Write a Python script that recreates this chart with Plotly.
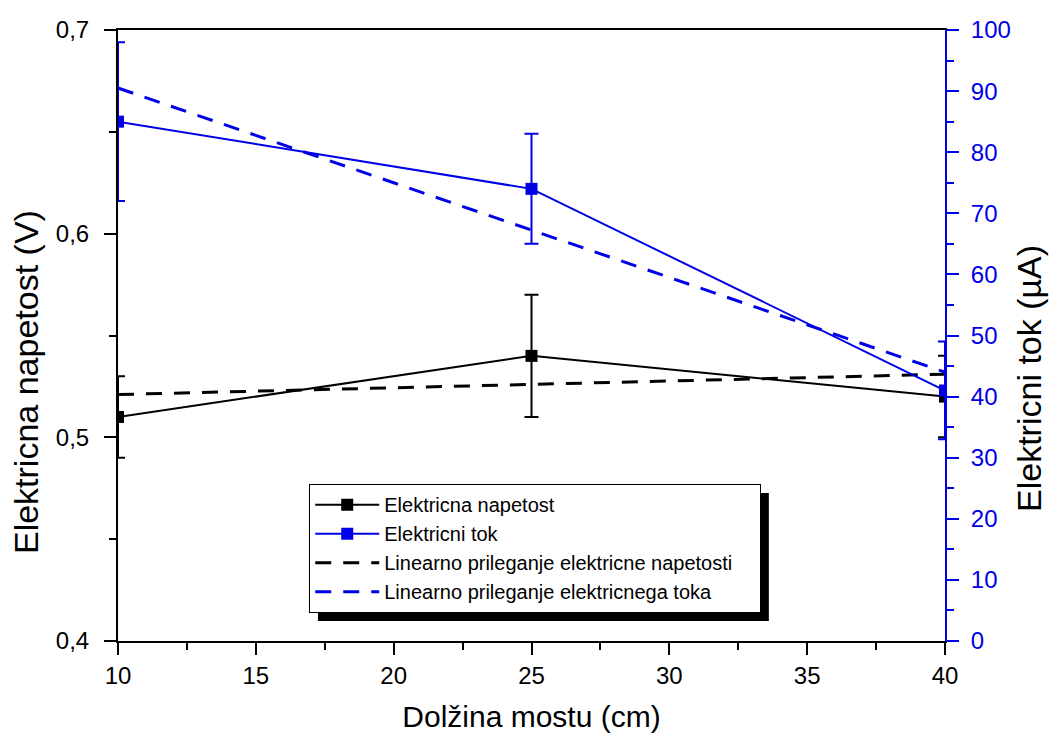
import plotly.graph_objects as go

# ---- data ----
length_cm = [10, 25, 40]
voltage_V = [0.51, 0.54, 0.52]
voltage_err = [0.02, 0.03, 0.02]
current_uA = [85, 74, 41]
current_err = [13, 9, 8]
fit_x = [10, 40]
fit_voltage = [0.521, 0.531]
fit_current = [90.5, 44.0]

x_ticks = [10, 15, 20, 25, 30, 35, 40]
y_ticks = [0.4, 0.5, 0.6, 0.7]
y_tick_text = ["0,4", "0,5", "0,6", "0,7"]
y2_ticks = [0, 10, 20, 30, 40, 50, 60, 70, 80, 90, 100]

names = ["Elektricna napetost", "Elektricni tok",
         "Linearno prileganje elektricne napetosti",
         "Linearno prileganje elektricnega toka"]
x_title = "Dolžina mostu (cm)"
y_title = "Elektricna napetost (V)"
y2_title = "Elektricni tok (µA)"

BLACK = "#000000"
BLUE = "#0000e6"
FONT = "Liberation Sans"
PAD = "\u00a0" * 4

fig = go.Figure()
fig.add_trace(go.Scatter(
    x=length_cm, y=voltage_V, name=names[0], mode="lines+markers",
    line=dict(color=BLACK, width=2),
    marker=dict(symbol="square", size=12, color=BLACK),
    error_y=dict(type="data", array=voltage_err, color=BLACK, thickness=2, width=7),
    yaxis="y"))
fig.add_trace(go.Scatter(
    x=length_cm, y=current_uA, name=names[1], mode="lines+markers",
    line=dict(color=BLUE, width=2),
    marker=dict(symbol="square", size=12, color=BLUE),
    error_y=dict(type="data", array=current_err, color=BLUE, thickness=2, width=7),
    yaxis="y2"))
fig.add_trace(go.Scatter(
    x=fit_x, y=fit_voltage, name=names[2] + PAD, mode="lines",
    line=dict(color=BLACK, width=3, dash="16px,12px"), yaxis="y"))
fig.add_trace(go.Scatter(
    x=fit_x, y=fit_current, name=names[3], mode="lines",
    line=dict(color=BLUE, width=3, dash="16px,12px"), yaxis="y2"))

fig.update_layout(
    width=1051, height=736,
    margin=dict(l=118, r=106, t=30, b=95),
    paper_bgcolor="white", plot_bgcolor="rgba(0,0,0,0)",
    font=dict(family=FONT, size=24, color=BLACK),
    showlegend=True,
    legend=dict(x=0.231, y=0.257, xanchor="left", yanchor="top",
                bgcolor="white", bordercolor=BLACK, borderwidth=1.2,
                font=dict(family=FONT, size=20, color=BLACK),
                itemwidth=64, tracegroupgap=0),
    xaxis=dict(range=[10, 40], tickvals=x_ticks, ticks="outside", ticklen=12,
               tickwidth=1.8, tickcolor=BLACK, showline=True, linecolor=BLACK,
               linewidth=2, mirror=True, showgrid=False, zeroline=False,
               automargin=False,
               minor=dict(ticks="outside", ticklen=7, tickwidth=1.8,
                          tickcolor=BLACK, dtick=2.5, tick0=10),
               title=dict(text=x_title, font=dict(size=30), standoff=18),
               tickfont=dict(size=24)),
    xaxis3=dict(range=[10, 40], overlaying="x", side="top", anchor="y",
                tickvals=x_ticks, ticks="inside", ticklen=7, tickwidth=1.8,
                tickcolor=BLACK, showticklabels=False, showgrid=False,
                zeroline=False, showline=False, automargin=False,
                minor=dict(ticks="inside", ticklen=7, tickwidth=1.8,
                           tickcolor=BLACK, dtick=2.5, tick0=10)),
    yaxis=dict(range=[0.4, 0.7], tickvals=y_ticks, ticktext=y_tick_text,
               ticks="outside", ticklen=12, tickwidth=1.8, tickcolor=BLACK,
               showline=True, linecolor=BLACK, linewidth=2, showgrid=False,
               zeroline=False, ticklabelstandoff=10, automargin=False,
               minor=dict(ticks="outside", ticklen=7, tickwidth=1.8,
                          tickcolor=BLACK, dtick=0.05, tick0=0.4),
               tickfont=dict(size=24)),
    yaxis2=dict(range=[0, 100], tickvals=y2_ticks, overlaying="y", side="right",
                anchor="x", ticks="outside", ticklen=12, tickwidth=1.8,
                tickcolor=BLUE, showline=True, linecolor=BLUE, linewidth=2,
                showgrid=False, zeroline=False, ticklabelstandoff=7,
                automargin=False,
                minor=dict(ticks="outside", ticklen=7, tickwidth=1.8,
                           tickcolor=BLUE, dtick=5, tick0=0),
                tickfont=dict(size=24, color=BLUE)),
    annotations=[
        dict(text=y_title, xref="paper", yref="paper", x=-0.1112, y=0.4239,
             xanchor="center", yanchor="middle", textangle=-90, showarrow=False,
             font=dict(family=FONT, size=34, color=BLACK)),
        dict(text=y2_title, xref="paper", yref="paper", x=1.1015, y=0.4304,
             xanchor="center", yanchor="middle", textangle=-90, showarrow=False,
             font=dict(family=FONT, size=34, color=BLACK)),
    ],
    shapes=[dict(type="rect", xref="paper", yref="paper",
                 x0=0.2418, x1=0.787, y0=0.0327, y1=0.2422,
                 fillcolor=BLACK, line=dict(width=0), layer="below")],
)

fig.write_html("out.html")
